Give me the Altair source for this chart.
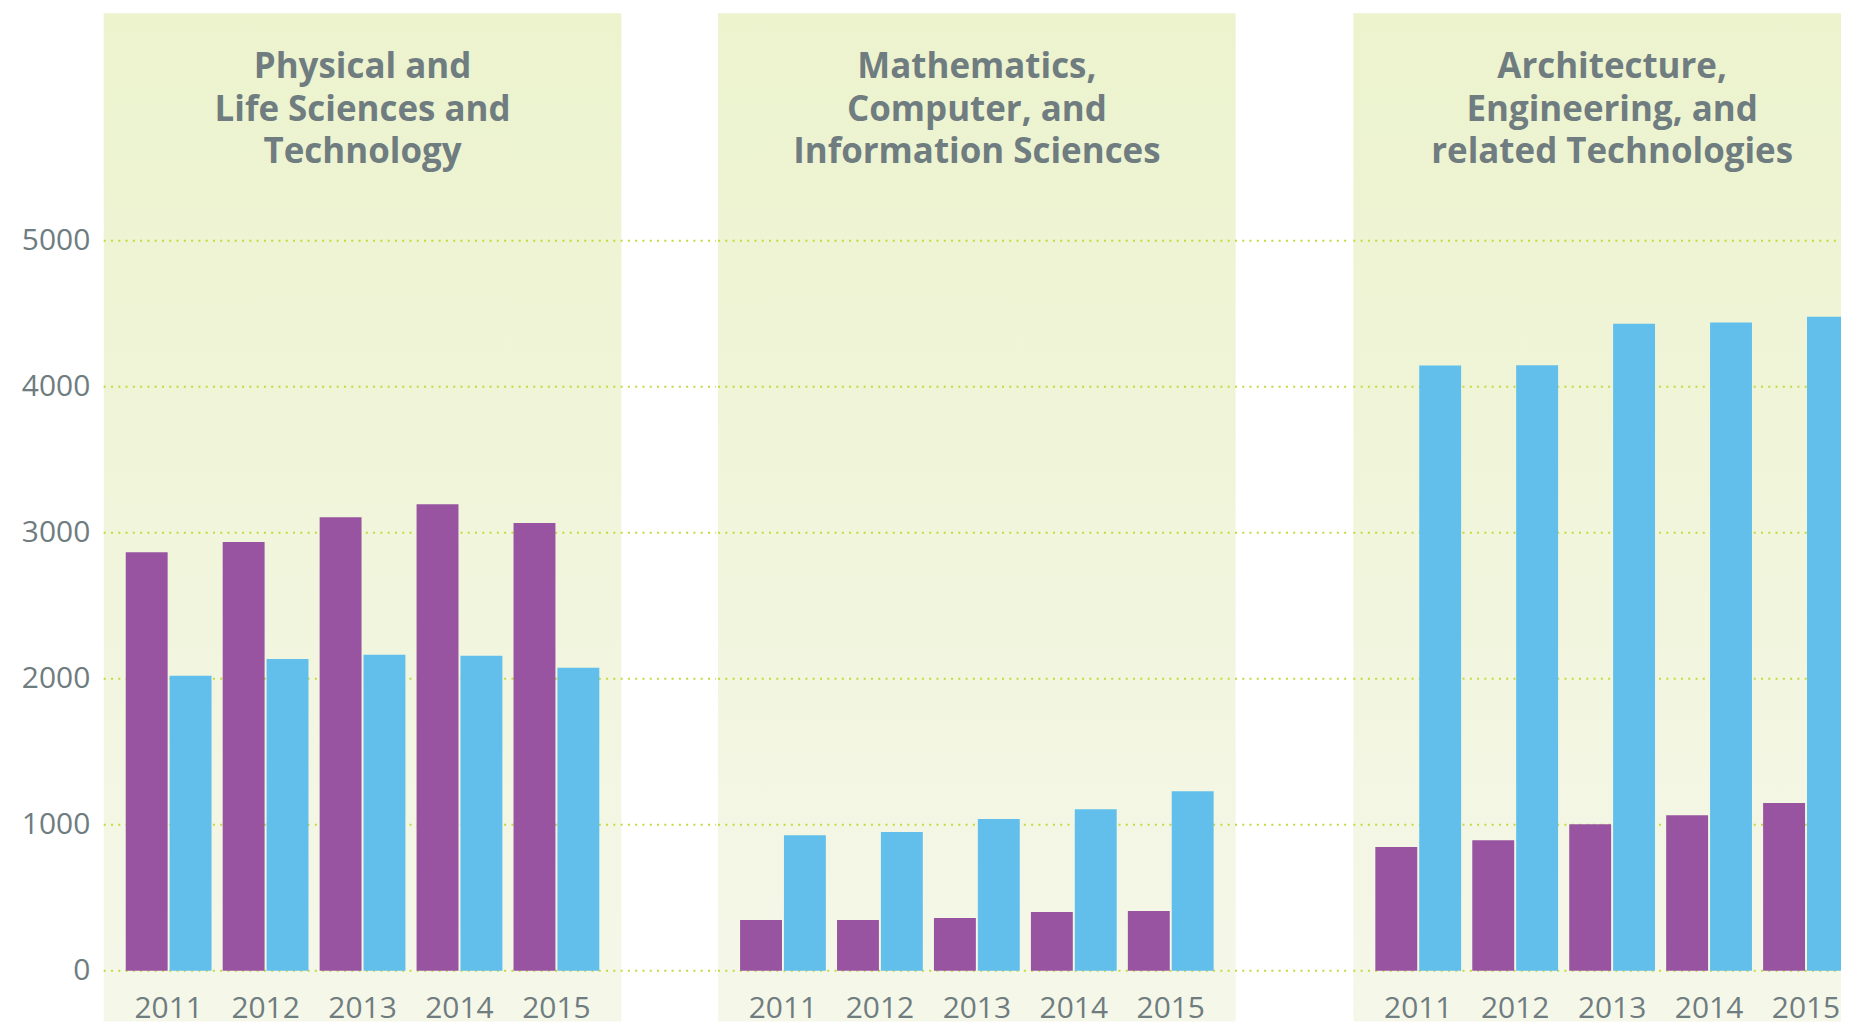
import altair as alt
import pandas as pd

# ---------------- data ----------------
years = ["2011", "2012", "2013", "2014", "2015"]
series = ["Female", "Male"]
panel_titles = [
    ["Physical and", "Life Sciences and", "Technology"],
    ["Mathematics,", "Computer, and", "Information Sciences"],
    ["Architecture,", "Engineering, and", "related Technologies"],
]
phys_female = [2866, 2937, 3107, 3196, 3067]
phys_male = [2020, 2135, 2165, 2158, 2076]
math_female = [348, 348, 362, 403, 410]
math_male = [929, 950, 1039, 1107, 1230]
arch_female = [848, 894, 1004, 1066, 1149]
arch_male = [4145, 4147, 4432, 4440, 4480]
y_ticks = [0, 1000, 2000, 3000, 4000, 5000]

# ---------------- style ----------------
PURPLE = "#9854a0"
BLUE = "#62bfeb"
TEXT_GRAY = "#6f7c80"
GRID = "#c4d93c"
BG_TOP = "#ecf3cd"
BG_BOTTOM = "#f5f7e9"
FONT = "Open Sans"

PANEL_W = 519
VIEW_H = 1011
Y_DOMAIN = [-348, 6557]
TITLE_Y0 = 65.3
TITLE_LH = 42.5


def make_panel(idx, female, male, view_w, show_axis, clip=False):
    df = pd.DataFrame({
        "year": years * 2,
        "series": [series[0]] * len(years) + [series[1]] * len(years),
        "value": female + male,
    })
    ticks_df = pd.DataFrame({"value": y_ticks})
    years_df = pd.DataFrame({"year": years})
    one = pd.DataFrame({"panel": [" ".join(panel_titles[idx])]})

    xscale = alt.Scale(domain=years, range=[0, PANEL_W],
                       paddingInner=0.115, paddingOuter=0.227)
    yscale = alt.Scale(domain=Y_DOMAIN, nice=False, zero=False)

    if show_axis:
        yaxis = alt.Axis(values=y_ticks, format="d", grid=False, domain=False,
                         ticks=False, tickSize=0, labelFont=FONT,
                         labelFontSize=30, labelColor=TEXT_GRAY,
                         labelPadding=14, labelBaseline="middle",
                         minExtent=96, maxExtent=96, title=None)
    else:
        yaxis = None

    bg_w = min(PANEL_W, view_w)
    background = alt.Chart(one).mark_rect(
        fill=alt.Gradient(
            gradient="linear",
            stops=[alt.GradientStop(color=BG_TOP, offset=0),
                   alt.GradientStop(color=BG_BOTTOM, offset=1)],
            x1=0, x2=0, y1=0, y2=1,
        )
    ).encode(
        x=alt.value(0), x2=alt.value(bg_w),
        y=alt.value(0), y2=alt.value(VIEW_H),
    )

    rules = alt.Chart(ticks_df).mark_rule(
        color=GRID, strokeWidth=2, strokeDash=[2, 5.3]
    ).encode(
        y=alt.Y("value:Q", scale=yscale, axis=yaxis),
        x=alt.value(0), x2=alt.value(view_w),
    )

    bars = alt.Chart(df).mark_bar(clip=clip).encode(
        x=alt.X("year:N", scale=xscale, axis=None, sort=years),
        xOffset=alt.XOffset("series:N", sort=series,
                            scale=alt.Scale(domain=series, paddingInner=0.045,
                                            paddingOuter=0)),
        y=alt.Y("value:Q", scale=yscale, axis=yaxis),
        color=alt.Color("series:N", legend=None,
                        scale=alt.Scale(domain=series, range=[PURPLE, BLUE])),
    )

    year_labels = alt.Chart(years_df).mark_text(
        font=FONT, fontSize=30, color=TEXT_GRAY, baseline="alphabetic",
        align="center", dy=47, clip=clip,
    ).encode(
        x=alt.X("year:N", scale=xscale, axis=None, sort=years),
        y=alt.Y(datum=0, scale=yscale, axis=yaxis),
        text="year:N",
    )

    title_layers = []
    for i, line in enumerate(panel_titles[idx]):
        title_layers.append(
            alt.Chart(one).mark_text(
                text=line, font=FONT, fontSize=35, fontWeight="bold",
                color=TEXT_GRAY, align="center", baseline="alphabetic",
            ).encode(
                x=alt.value(PANEL_W / 2), y=alt.value(TITLE_Y0 + i * TITLE_LH),
            )
        )

    return alt.layer(background, rules, bars, year_labels, *title_layers).properties(
        width=view_w, height=VIEW_H
    )


p1 = make_panel(0, phys_female, phys_male, PANEL_W + 95, True)
p2 = make_panel(1, math_female, math_male, PANEL_W + 116, False)
p3 = make_panel(2, arch_female, arch_male, 489, False, clip=True)

chart = alt.hconcat(p1, p2, p3, spacing=0).properties(
    padding={"left": 0, "top": 4, "right": 0, "bottom": 0},
    background="white",
).configure_view(stroke=None)

chart.save("out.html", embed_options={"renderer": "svg", "actions": False})
